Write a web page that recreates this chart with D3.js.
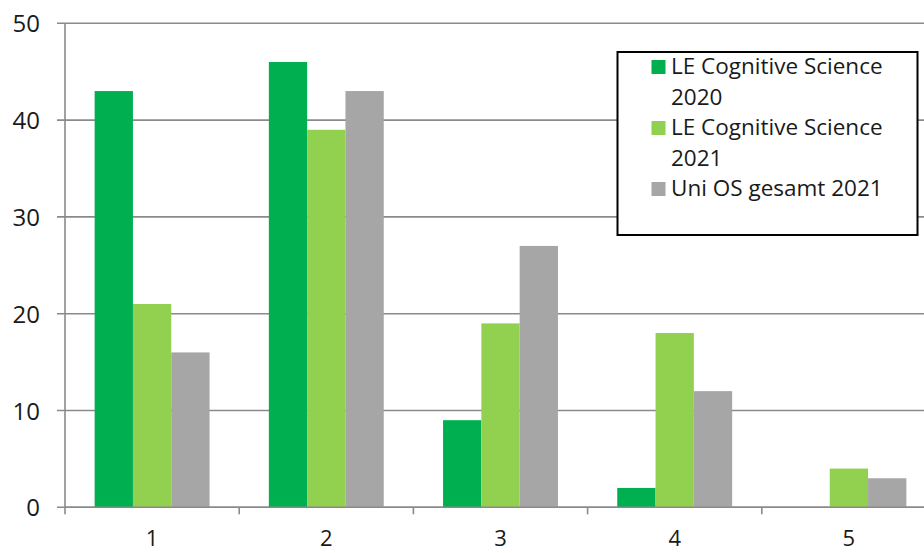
<!DOCTYPE html>
<html>
<head>
<meta charset="utf-8">
<script src="https://cdn.jsdelivr.net/npm/d3@7"></script>
<style>
  html, body { margin: 0; padding: 0; background: #fff; overflow: hidden; }
  svg { display: block; font-family: "Open Sans", "Liberation Sans", sans-serif; }
</style>
</head>
<body>
<svg id="chart" width="924" height="553"></svg>
<script>
// Grades 1–5, share of responses in percent
const categories = ["1", "2", "3", "4", "5"];
const seriesNames = ["LE Cognitive Science 2020", "LE Cognitive Science 2021", "Uni OS gesamt 2021"];
const legendLines = [["LE Cognitive Science", "2020"], ["LE Cognitive Science", "2021"], ["Uni OS gesamt 2021"]];
const le2020 = [43, 46, 9, 2, 0];
const le2021 = [21, 39, 19, 18, 4];
const uniOS2021 = [16, 43, 27, 12, 3];
const yTicks = [0, 10, 20, 30, 40, 50];
const colors = ["#00b050", "#92d050", "#a6a6a6"];

const values = [le2020, le2021, uniOS2021];
const rows = categories.map((c, i) => ({ cat: c, vals: values.map((s, k) => ({ k, v: s[i] })) }));

const svg = d3.select("#chart");
const plotLeft = 65, plotBottom = 507.3, plotTop = 23.3, plotRight = 936;

const x0 = d3.scaleBand().domain(categories).range([plotLeft, plotRight]).padding(0);
const x1 = d3.scaleBand().domain(d3.range(seriesNames.length)).range([0, x0.bandwidth()])
  .paddingInner(0).paddingOuter(0.774);
const y = d3.scaleLinear().domain([0, 50]).range([plotBottom, plotTop]);

const gridColor = "#8a8a8a";

// horizontal gridlines with short ticks left of the axis
svg.append("g").selectAll("line").data(yTicks).join("line")
  .attr("x1", plotLeft - 8).attr("x2", 924)
  .attr("y1", d => y(d)).attr("y2", d => y(d))
  .attr("stroke", gridColor).attr("stroke-width", 1.6);

// y axis labels
svg.append("g").selectAll("text").data(yTicks).join("text")
  .attr("x", 40).attr("y", d => y(d) + 9)
  .attr("text-anchor", "end")
  .attr("font-size", 24).attr("fill", "#1a1a1a")
  .text(d => d);

// bars
svg.append("g").selectAll("g").data(rows).join("g")
  .attr("transform", d => `translate(${x0(d.cat)},0)`)
  .selectAll("rect").data(d => d.vals).join("rect")
  .attr("x", d => x1(d.k)).attr("width", x1.bandwidth())
  .attr("y", d => y(d.v)).attr("height", d => plotBottom - y(d.v))
  .attr("fill", d => colors[d.k]);

// y axis line
svg.append("line").attr("x1", plotLeft).attr("x2", plotLeft)
  .attr("y1", plotTop).attr("y2", plotBottom + 7)
  .attr("stroke", gridColor).attr("stroke-width", 1.6);

// x axis line and category ticks
svg.append("line").attr("x1", plotLeft).attr("x2", 924)
  .attr("y1", plotBottom).attr("y2", plotBottom)
  .attr("stroke", gridColor).attr("stroke-width", 1.6);
svg.append("g").selectAll("line").data(categories.slice(1)).join("line")
  .attr("x1", d => x0(d)).attr("x2", d => x0(d))
  .attr("y1", plotBottom).attr("y2", plotBottom + 7)
  .attr("stroke", gridColor).attr("stroke-width", 1.6);

// category labels
svg.append("g").selectAll("text").data(categories).join("text")
  .attr("x", d => x0(d) + x0.bandwidth() / 2).attr("y", 546)
  .attr("text-anchor", "middle")
  .attr("font-size", 22).attr("fill", "#1a1a1a")
  .text(d => d);

// legend
const lg = svg.append("g");
lg.append("rect").attr("x", 617.5).attr("y", 52).attr("width", 300).attr("height", 183)
  .attr("fill", "#fff").attr("stroke", "#000").attr("stroke-width", 2);
const lineH = 30.5;
let lineIdx = 0;
legendLines.forEach((lines, k) => {
  const baseY = 74 + lineIdx * lineH;
  lg.append("rect").attr("x", 651.5).attr("y", baseY - 14).attr("width", 14).attr("height", 14)
    .attr("fill", colors[k]);
  lines.forEach((t, j) => {
    lg.append("text").attr("x", 671).attr("y", baseY + j * lineH)
      .attr("font-size", 22.5).attr("fill", "#1a1a1a").text(t);
  });
  lineIdx += lines.length;
});
</script>
</body>
</html>
